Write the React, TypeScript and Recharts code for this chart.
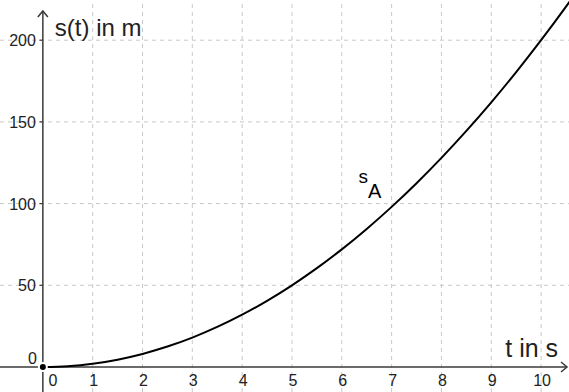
import { LineChart, Line, XAxis, YAxis, ReferenceLine, ReferenceDot } from "recharts";

const times = [0, 0.5, 1, 1.5, 2, 2.5, 3, 3.5, 4, 4.5, 5, 5.5, 6, 6.5, 7, 7.5, 8, 8.5, 9, 9.5, 10, 10.5, 10.7];
const distances = [0, 0.5, 2, 4.5, 8, 12.5, 18, 24.5, 32, 40.5, 50, 60.5, 72, 84.5, 98, 112.5, 128, 144.5, 162, 180.5, 200, 220.5, 229];

const xTicks = [0, 1, 2, 3, 4, 5, 6, 7, 8, 9, 10];
const yTicks = [50, 100, 150, 200];

const xDomain: [number, number] = [-0.86, 10.56];
const yDomain: [number, number] = [-15.3, 224.6];

const data = times.map((t, i) => ({ t, s: distances[i] }));

const font = "'Liberation Sans', Arial, sans-serif";
const gridColor = "#c8c8c8";
const axisColor = "#3a3a3a";

function textShape(value: string, dx: number, dy: number, anchor: string, size = 16) {
  return (p: any) => (
    <text x={p.cx + dx} y={p.cy + dy} textAnchor={anchor} fontSize={size} fontFamily={font} fill="#222">
      {value}
    </text>
  );
}

export default function App() {
  return (
    <div style={{ position: "absolute", left: 0, top: 0, background: "#fff" }}>
      <LineChart width={569} height={392} data={data} margin={{ top: 0, right: 0, bottom: 0, left: 0 }}>
        <XAxis dataKey="t" type="number" domain={xDomain} allowDataOverflow hide />
        <YAxis type="number" domain={yDomain} allowDataOverflow hide />

        {xTicks.slice(1).map((t) => (
          <ReferenceLine key={"gx" + t} x={t} stroke={gridColor} strokeDasharray="4 4" />
        ))}
        {yTicks.map((v) => (
          <ReferenceLine key={"gy" + v} y={v} stroke={gridColor} strokeDasharray="4 4" />
        ))}

        <ReferenceLine segment={[{ x: 0, y: -15.3 }, { x: 0, y: 217.9 }]} stroke={axisColor} strokeWidth={1.5} />
        <ReferenceLine segment={[{ x: -0.86, y: 0 }, { x: 10.52, y: 0 }]} stroke={axisColor} strokeWidth={1.5} />

        {yTicks.map((v) => (
          <ReferenceLine key={"ty" + v} segment={[{ x: -0.07, y: v }, { x: 0, y: v }]} stroke={axisColor} strokeWidth={1.2} />
        ))}

        <ReferenceDot
          x={0}
          y={217.9}
          r={0}
          shape={(p: any) => (
            <path d={`M${p.cx - 5},${p.cy + 6} L${p.cx},${p.cy} L${p.cx + 5},${p.cy + 6}`} fill="none" stroke={axisColor} strokeWidth={1.5} />
          )}
        />
        <ReferenceDot
          x={10.52}
          y={0}
          r={0}
          shape={(p: any) => (
            <path d={`M${p.cx - 6},${p.cy - 5} L${p.cx},${p.cy} L${p.cx - 6},${p.cy + 5}`} fill="none" stroke={axisColor} strokeWidth={1.5} />
          )}
        />

        <Line dataKey="s" type="monotone" stroke="#000" strokeWidth={2} dot={false} isAnimationActive={false} />

        {yTicks.map((v) => (
          <ReferenceDot key={"ly" + v} x={0} y={v} r={0} shape={textShape(String(v), -7, 6, "end")} />
        ))}
        <ReferenceDot x={0} y={0} r={0} shape={textShape("0", -6, -3, "end")} />
        {xTicks.map((t) => (
          <ReferenceDot key={"lx" + t} x={t} y={0} r={0} shape={textShape(String(t), t === 0 ? 10 : 1, 19, "middle")} />
        ))}

        <ReferenceDot x={0} y={200} r={0} shape={textShape("s(t) in m", 12, -4, "start", 24)} />
        <ReferenceDot x={10} y={0} r={0} shape={textShape("t in s", 17, -10, "end", 25)} />
        <ReferenceDot
          x={7}
          y={100}
          r={0}
          shape={(p: any) => (
            <text x={p.cx - 33} y={p.cy - 21} fontSize={19} fontFamily={font} fill="#000">
              s
              <tspan dy={15} fontSize={20}>A</tspan>
            </text>
          )}
        />
      </LineChart>
    </div>
  );
}
